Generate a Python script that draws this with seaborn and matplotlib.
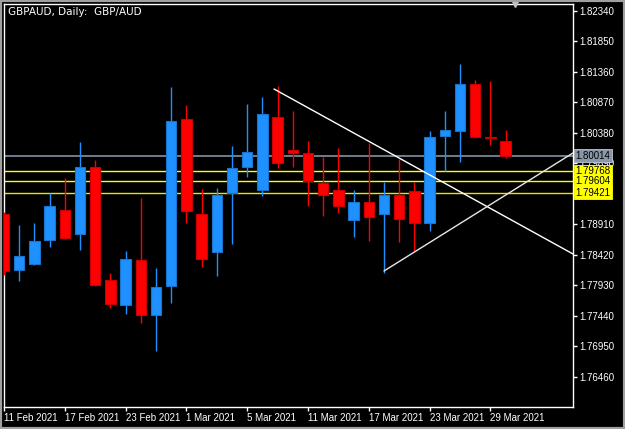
"""
GBPAUD daily candlestick chart (MetaTrader style) with bid line,
support levels and two trend lines.
"""
import numpy as np
import pandas as pd
import matplotlib
matplotlib.use("Agg")
from matplotlib import pyplot as plt
from matplotlib import transforms
from matplotlib.patches import Rectangle
import seaborn as sns

# Trading days shown on the chart
dates = [
    "2021-02-11", "2021-02-12", "2021-02-15", "2021-02-16", "2021-02-17",
    "2021-02-18", "2021-02-19", "2021-02-22", "2021-02-23", "2021-02-24",
    "2021-02-25", "2021-02-26", "2021-03-01", "2021-03-02", "2021-03-03",
    "2021-03-04", "2021-03-05", "2021-03-08", "2021-03-09", "2021-03-10",
    "2021-03-11", "2021-03-12", "2021-03-15", "2021-03-16", "2021-03-17",
    "2021-03-18", "2021-03-19", "2021-03-22", "2021-03-23", "2021-03-24",
    "2021-03-25", "2021-03-26", "2021-03-29", "2021-03-30",
]

# OHLC values
opens = [
    1.79078, 1.78179, 1.78275, 1.78661, 1.79143, 1.78757, 1.79834, 1.78018,
    1.77616, 1.78339, 1.77456, 1.77922, 1.80605, 1.79078, 1.78468, 1.79416,
    1.79834, 1.79464, 1.80637, 1.80107, 1.80059, 1.79577, 1.79464, 1.78982,
    1.79271, 1.79078, 1.79384, 1.79448, 1.78934, 1.80332, 1.80412, 1.81167,
    1.80316, 1.80251,
]
highs = [
    1.79111, 1.78902, 1.78934, 1.79416, 1.79657, 1.80235, 1.79946, 1.78130,
    1.78484, 1.79336, 1.78211, 1.81119, 1.80830, 1.79480, 1.79496, 1.80171,
    1.80846, 1.80958, 1.81135, 1.80733, 1.80251, 1.79994, 1.80139, 1.79464,
    1.80219, 1.79593, 1.79962, 1.79593, 1.80412, 1.80733, 1.81488, 1.81231,
    1.81215, 1.80428,
]
lows = [
    1.78098, 1.78002, 1.78259, 1.78548, 1.78677, 1.78500, 1.77922, 1.77568,
    1.77472, 1.77327, 1.76877, 1.77648, 1.78934, 1.78227, 1.78082, 1.78596,
    1.79673, 1.79368, 1.79818, 1.79834, 1.79207, 1.79046, 1.79095, 1.78709,
    1.78645, 1.78130, 1.78629, 1.78484, 1.78805, 1.79769, 1.79914, 1.80300,
    1.80187, 1.79978,
]
closes = [
    1.78163, 1.78404, 1.78645, 1.79207, 1.78693, 1.79834, 1.77938, 1.77632,
    1.78355, 1.77456, 1.77906, 1.80573, 1.79127, 1.78355, 1.79384, 1.79818,
    1.80075, 1.80685, 1.79898, 1.80059, 1.79609, 1.79384, 1.79207, 1.79271,
    1.79030, 1.79384, 1.78998, 1.78934, 1.80316, 1.80428, 1.81167, 1.80316,
    1.80300, 1.80014,
]

price_ticks = [
    1.82340, 1.81850, 1.81360, 1.80870, 1.80380, 1.79890, 1.79400,
    1.78910, 1.78420, 1.77930, 1.77440, 1.76950, 1.76460,
]
# 1.79400 sits fully behind the level labels, so it shows no text
hidden_ticks = [1.79400]

bid = 1.80014
levels = [1.79768, 1.79604, 1.79421]
level_colors = ["#FFFF00", "#FFFF00", "#E6E600"]

# Trend lines as (bar position, price) anchors
trend_down_x = [17.76, 37.43]
trend_down_y = [1.81087, 1.78436]
trend_up_x = [25.0, 37.43]
trend_up_y = [1.78163, 1.80059]

BULL = "#1E90FF"
BEAR = "#FF0000"

sns.set_theme(
    style="dark",
    rc={
        "figure.facecolor": "black",
        "axes.facecolor": "black",
        "axes.edgecolor": "white",
        "axes.linewidth": 1.0,
        "axes.grid": False,
        "xtick.color": "white",
        "ytick.color": "white",
        "text.color": "white",
    },
)
plt.rcParams["font.family"] = ["Liberation Sans", "DejaVu Sans"]

df = pd.DataFrame(
    dict(date=pd.to_datetime(dates), open=opens, high=highs, low=lows, close=closes)
)
df["pos"] = np.arange(len(df))
up = df["close"] >= df["open"]
colors = np.where(up, BULL, BEAR)
edges = np.where(up, "#1874CD", "#CC0000")

fig = plt.figure(figsize=(6.25, 4.29), dpi=100)
ax = fig.add_axes([4 / 625, 22 / 429, 569 / 625, 403 / 429])
ax.set_xlim(0, 37.43)
ax.set_ylim(1.759775, 1.824525)

# Candles
ax.vlines(df["pos"], df["low"], df["high"], colors=colors, lw=1, zorder=3)
ax.bar(
    df["pos"],
    (df["close"] - df["open"]).abs(),
    bottom=df[["open", "close"]].min(axis=1),
    width=0.69,
    color=colors,
    edgecolor=edges,
    lw=0.8,
    zorder=4,
)

# Bid line and levels
ax.axhline(bid, color="#778899", lw=1.3, zorder=2)
for lv, c in zip(levels, level_colors):
    ax.axhline(lv, color=c, lw=1, zorder=2)

# Trend lines
sns.lineplot(x=trend_down_x, y=trend_down_y, color="white", lw=1, ax=ax, zorder=5)
sns.lineplot(x=trend_up_x, y=trend_up_y, color="#E8E8E8", lw=1, ax=ax, zorder=5)

# Axes formatting
ax.yaxis.tick_right()
ax.set_yticks(price_ticks)
ax.set_yticklabels(
    ["" if p in hidden_ticks else f"{p:.5f}" for p in price_ticks], fontsize=7
)
ax.tick_params(axis="y", length=3, width=1, pad=1.5, right=True, left=False)

tick_pos = df["pos"].iloc[::4]
ax.set_xticks(tick_pos)
ax.set_xticklabels(
    [f"{d.day} {d:%b %Y}" for d in df["date"].iloc[::4]], fontsize=7, ha="left"
)
ax.tick_params(axis="x", length=3, width=1, pad=1.5, bottom=True)
for sp in ax.spines.values():
    sp.set_color("white")

# Price labels on the axis
trans = transforms.blended_transform_factory(ax.transAxes, ax.transData)
ax.text(
    1.004, bid, f"{bid:.5f}", transform=trans, fontsize=7, color="black",
    va="center", ha="left", zorder=10, clip_on=False,
    bbox=dict(boxstyle="square,pad=0.15", fc="#8898A8", ec="#C0C8D0", lw=0.6),
)
for lv in levels:
    ax.text(
        1.004, lv, f"{lv:.5f}", transform=trans, fontsize=7, color="black",
        va="center", ha="left", zorder=10, clip_on=False,
        bbox=dict(boxstyle="square,pad=0.15", fc="#FFFF00", ec="#FFFF00", lw=0.6),
    )

# Header and chart-shift marker
ax.text(0.007, 0.993, "GBPAUD, Daily:  GBP/AUD", transform=ax.transAxes,
        fontsize=7.5, family="DejaVu Sans", color="white", ha="left", va="top")
ax.plot([33.6], [1.0], marker="v", ms=5, color="#C0C0C0",
        transform=transforms.blended_transform_factory(ax.transData, ax.transAxes),
        clip_on=False, zorder=10)

# Window border
fig.patches.append(
    Rectangle((0, 0), 1, 1, transform=fig.transFigure, fill=False,
              ec="#A0A0A0", lw=3)
)

fig.savefig("out.png", dpi=100)
